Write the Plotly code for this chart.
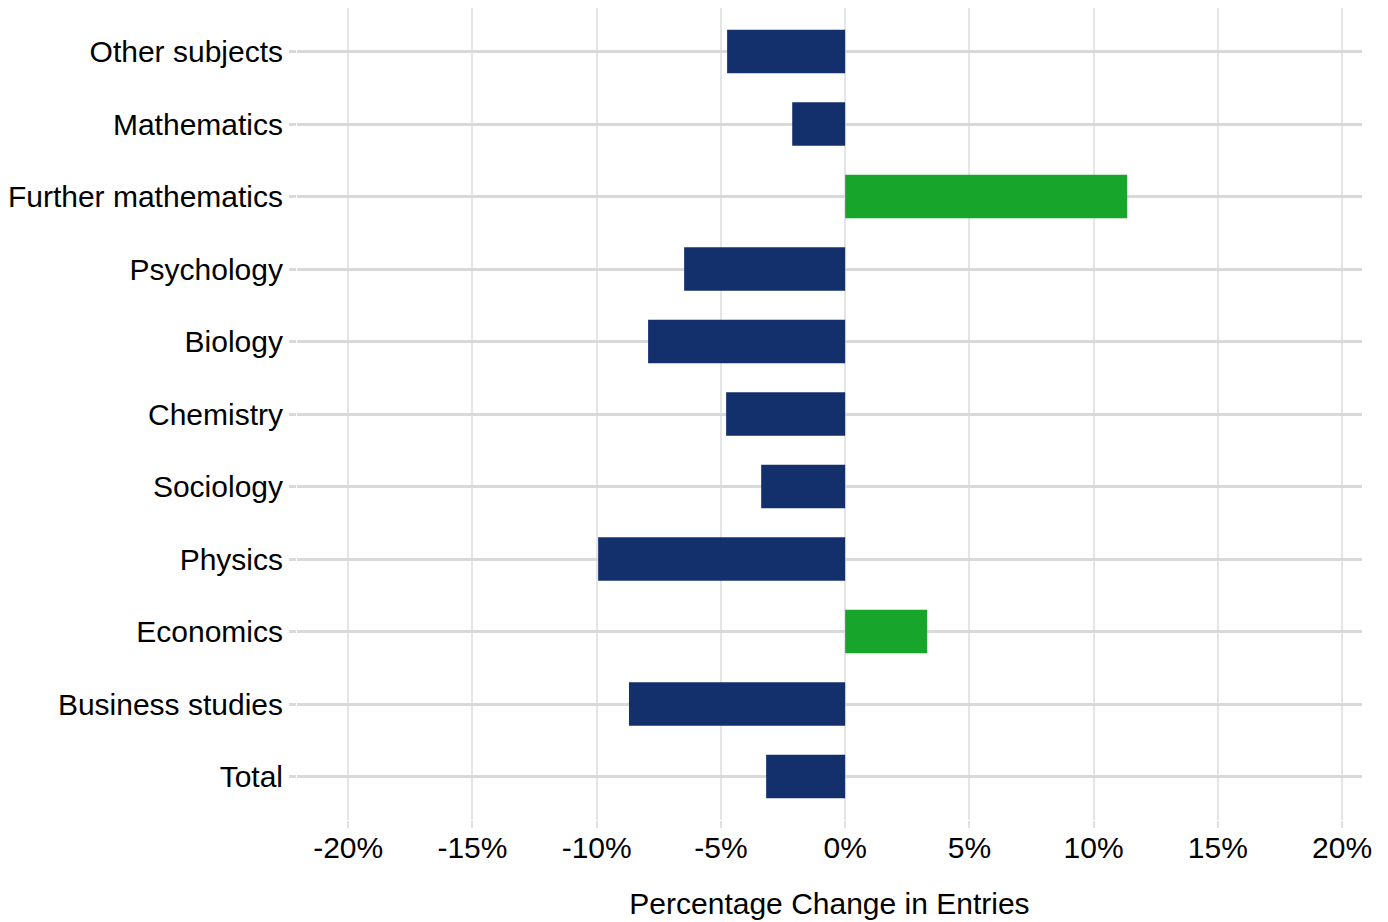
import plotly.graph_objects as go

subjects = ["Total", "Business studies", "Economics", "Physics", "Sociology",
            "Chemistry", "Biology", "Psychology", "Further mathematics",
            "Mathematics", "Other subjects"]
pct_change = [-3.18, -8.70, 3.30, -9.94, -3.38, -4.79, -7.93, -6.48, 11.35, -2.13, -4.75]
tick_vals = [-20, -15, -10, -5, 0, 5, 10, 15, 20]
tick_text = ["-20%", "-15%", "-10%", "-5%", "0%", "5%", "10%", "15%", "20%"]

NAVY = "#13306D"
GREEN = "#17A62B"
colors = [GREEN if v > 0 else NAVY for v in pct_change]

fig = go.Figure(go.Bar(
    x=pct_change, y=subjects, orientation="h",
    marker=dict(color=colors, line=dict(width=0)),
    width=0.6, showlegend=False,
))

font = "Liberation Sans, Arial, sans-serif"
fig.update_layout(
    width=1380, height=914,
    margin=dict(l=289, r=26, t=0, b=102),
    paper_bgcolor="white", plot_bgcolor="white",
    font=dict(family=font, size=30, color="black"),
    bargap=0.4,
)
fig.update_xaxes(
    range=[-22.06, 20.8],
    tickvals=tick_vals, ticktext=tick_text,
    showgrid=True, gridcolor="#E5E5E5", gridwidth=1.5,
    zeroline=False, showline=False,
    ticks="outside", ticklen=7, tickwidth=2, tickcolor="#E0E0E0",
    ticklabelstandoff=-6,
    tickfont=dict(size=30, color="black"),
    title=dict(text="Percentage Change in Entries", font=dict(size=30, color="black"), standoff=29),
)
fig.update_yaxes(
    type="category", categoryorder="array", categoryarray=subjects,
    range=[-0.6, 10.6],
    showgrid=True, gridcolor="#D9D9D9", gridwidth=3,
    zeroline=False, showline=False,
    ticks="outside", ticklen=7, tickwidth=3, tickcolor="#D9D9D9",
    tickfont=dict(size=30, color="black"),
)

fig.write_html("out.html")
